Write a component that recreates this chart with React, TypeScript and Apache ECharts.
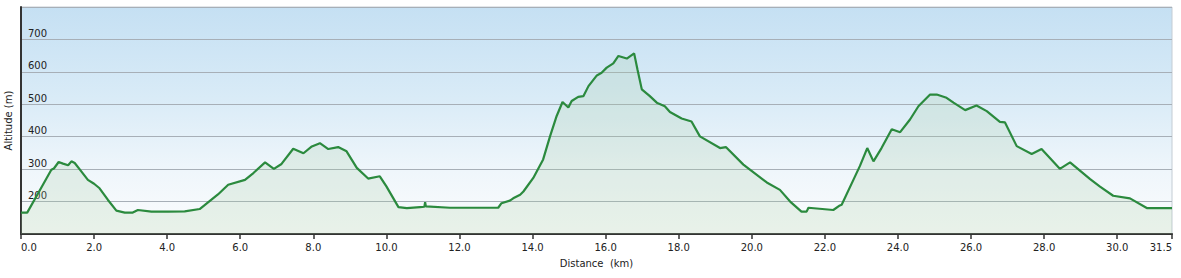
import React, { useEffect, useRef } from "react";
import * as echarts from "echarts";

const distanceKm: number[] = [
  0.0, 0.17, 0.6, 0.83, 0.9, 1.03, 1.15, 1.29, 1.38, 1.47, 1.65, 1.83, 2.0, 2.15, 2.38, 2.61, 2.84, 3.06,
  3.2, 3.57, 4.02, 4.48, 4.89, 5.39, 5.67, 6.13, 6.36, 6.68, 6.92, 7.13, 7.45, 7.73, 7.96, 8.18, 8.41,
  8.68, 8.91, 9.19, 9.5, 9.82, 10.0, 10.33, 10.56, 10.92, 11.04, 11.06, 11.08, 11.74, 13.06, 13.15,
  13.38, 13.47, 13.66, 13.75, 14.02, 14.29, 14.48, 14.66, 14.82, 14.98, 15.07, 15.25, 15.39, 15.53,
  15.76, 15.89, 16.03, 16.21, 16.35, 16.58, 16.78, 16.87, 16.99, 17.21, 17.4, 17.62, 17.76, 18.08,
  18.35, 18.58, 19.13, 19.29, 19.77, 20.41, 20.77, 21.05, 21.36, 21.5, 21.55, 22.23, 22.41, 22.46,
  22.78, 22.96, 23.16, 23.33, 23.55, 23.83, 24.06, 24.33, 24.56, 24.88, 25.06, 25.33, 25.52, 25.84,
  26.15, 26.43, 26.79, 26.93, 27.25, 27.66, 27.93, 28.43, 28.71, 29.26, 29.53, 29.89, 30.35, 30.81,
  31.5,
];

const altitudeM: number[] = [
  166, 166, 252, 298, 302, 322, 317, 312, 324, 319, 293, 267, 255, 241, 205, 172, 166, 166,
  174, 169, 169, 170, 177, 222, 252, 267, 288, 321, 301, 316, 363, 349, 370, 380, 362,
  368, 355, 304, 271, 278, 247, 183, 180, 183, 184, 198, 185, 181, 181, 195,
  203, 210, 221, 231, 273, 330, 402, 464, 507, 490, 510, 523, 525, 556,
  589, 597, 613, 626, 649, 641, 657, 608, 546, 525, 505, 494, 476, 456,
  447, 401, 365, 368, 314, 259, 236, 200, 169, 169, 181, 174, 188, 190,
  267, 310, 365, 324, 365, 423, 414, 453, 494, 530, 530, 520, 505, 482,
  496, 479, 446, 444, 371, 347, 362, 301, 321, 269, 246, 218, 210, 180,
  180,
];

const xTitle = "Distance  (km)";
const yTitle = "Altitude (m)";
const hiddenYLabels: number[] = [100, 800];

const FONT = "DejaVu Sans";

export default function App() {
  const ref = useRef<HTMLDivElement>(null);

  useEffect(() => {
    if (!ref.current) return;
    const chart = echarts.init(ref.current, undefined, { renderer: "svg" });
    const data = distanceKm.map((d, i) => [d, altitudeM[i]]);
    chart.setOption({
      animation: false,
      backgroundColor: "#ffffff",
      grid: {
        left: 21,
        right: 9,
        top: 7,
        bottom: 44,
        show: true,
        containLabel: false,
        outerBoundsMode: "none",
        borderColor: "#c4ccd4",
        borderWidth: 1,
        backgroundColor: {
          type: "linear",
          x: 0,
          y: 0,
          x2: 0,
          y2: 1,
          colorStops: [
            { offset: 0, color: "#c5e0f3" },
            { offset: 0.4, color: "#d9ebf7" },
            { offset: 0.72, color: "#eff6fb" },
            { offset: 1, color: "#fbfcfd" },
          ],
        },
      },
      xAxis: {
        type: "value",
        min: 0,
        max: 31.5,
        interval: 2,
        name: xTitle,
        nameLocation: "middle",
        nameGap: 24,
        nameTextStyle: { fontFamily: FONT, fontSize: 10, color: "#222" },
        axisLine: { show: true, lineStyle: { color: "#333", width: 2 } },
        axisTick: { show: true, length: 5, lineStyle: { color: "#333", width: 1.5 } },
        axisLabel: {
          fontFamily: FONT,
          fontSize: 10,
          color: "#222",
          margin: 8,
          alignMinLabel: "left",
          alignMaxLabel: "right",
          formatter: (v: number) => v.toFixed(1),
        },
        splitLine: { show: false },
      },
      yAxis: {
        type: "value",
        min: 100,
        max: 800,
        interval: 100,
        name: yTitle,
        nameLocation: "middle",
        nameGap: 3,
        nameTextStyle: { fontFamily: FONT, fontSize: 10, color: "#222" },
        axisLine: { show: true, lineStyle: { color: "#333", width: 2 } },
        axisTick: { show: false },
        axisLabel: {
          inside: true,
          fontFamily: FONT,
          fontSize: 10,
          color: "#222",
          margin: 7,
          verticalAlign: "bottom",
          padding: [0, 0, 1, 0],
          formatter: (v: number) => (hiddenYLabels.includes(v) ? "" : String(v)),
        },
        splitLine: { show: true, lineStyle: { color: "#a7afb7", width: 1 } },
      },
      series: [
        {
          type: "line",
          data,
          symbol: "none",
          showSymbol: false,
          lineStyle: { color: "#2b8a3e", width: 2.2 },
          areaStyle: { origin: "start", color: "rgba(165,205,160,0.3)" },
        },
      ],
    });
    return () => chart.dispose();
  }, []);

  return (
    <div
      ref={ref}
      style={{ position: "fixed", left: 0, top: 0, width: 1181, height: 278 }}
    />
  );
}
